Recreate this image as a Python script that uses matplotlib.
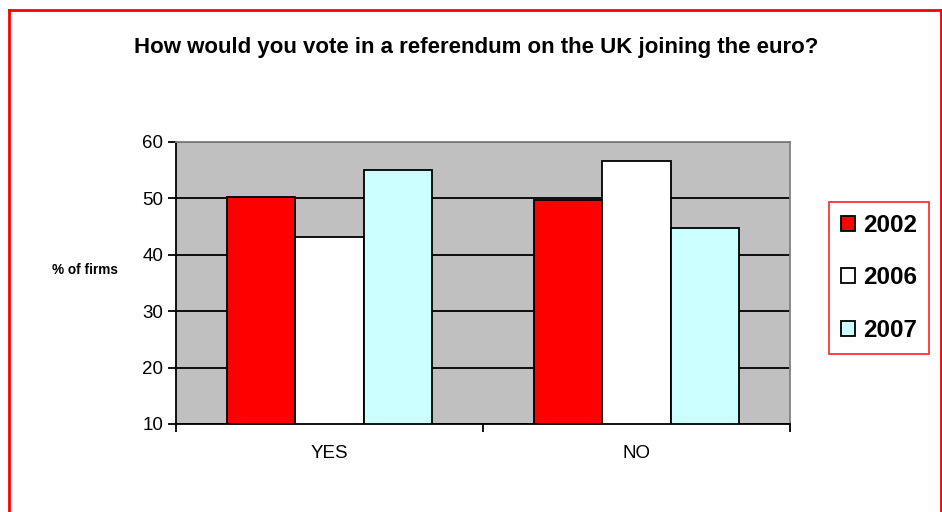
import matplotlib.pyplot as plt
import numpy as np
from matplotlib.patches import Patch
from matplotlib.lines import Line2D

plt.rcParams['font.family'] = ['Liberation Sans', 'DejaVu Sans']

# survey answers, % of firms
answers = ['YES', 'NO']
years = ['2002', '2006', '2007']
pct_2002 = [50.2, 49.7]
pct_2006 = [43.2, 56.6]
pct_2007 = [55.0, 44.8]
colours = ['#ff0000', '#ffffff', '#ccffff']

fig = plt.figure(figsize=(9.42, 5.12), dpi=100)
ax = fig.add_axes([0.1868, 0.1719, 0.6518, 0.5508])

series = [pct_2002, pct_2006, pct_2007]
w = 2 / 9
centres = np.arange(len(answers)) + 0.5
for i, (vals, col) in enumerate(zip(series, colours)):
    x = centres + (i - 1) * w
    ax.bar(x, np.array(vals) - 10, width=w, bottom=10, color=col,
           edgecolor='black', linewidth=1.3, zorder=3)

ax.set_facecolor('#c0c0c0')
ax.set_xlim(0, 2)
ax.set_ylim(10, 60)
ax.set_yticks(range(10, 61, 10))
ax.yaxis.grid(True, color='black', linewidth=1.3, zorder=1)
ax.set_axisbelow(True)

ax.set_xticks([0, 1, 2])
ax.set_xticklabels([])
ax.set_xticks(centres, minor=True)
ax.set_xticklabels(answers, minor=True)
ax.tick_params(axis='x', which='minor', length=0, pad=15, labelsize=13.5)
ax.tick_params(axis='x', which='major', length=6, width=1.3, direction='out')
ax.tick_params(axis='y', length=6, width=1.3, direction='out', labelsize=13.5, pad=3)

for s in ['top', 'right']:
    ax.spines[s].set_color('#808080')
    ax.spines[s].set_linewidth(1.3)
for s in ['left', 'bottom']:
    ax.spines[s].set_color('black')
    ax.spines[s].set_linewidth(1.3)

fig.text(0.506, 0.908, 'How would you vote in a referendum on the UK joining the euro?',
         ha='center', va='center', fontsize=16, fontweight='bold')
fig.text(0.0902, 0.472, '% of firms', ha='center', va='center',
         fontsize=9.8, fontweight='bold')

handles = [Patch(facecolor=c, edgecolor='black', linewidth=1.3) for c in colours]
leg = fig.legend(handles, years, loc='center left',
                 bbox_to_anchor=(829 / 942, (512 - 278) / 512),
                 frameon=True, fancybox=False,
                 prop={'weight': 'bold', 'size': 17.5},
                 handlelength=0.58, handleheight=0.58, handletextpad=0.33,
                 labelspacing=1.22, borderpad=0.5, borderaxespad=0)
leg.get_frame().set_edgecolor('red')
leg.get_frame().set_linewidth(1.3)

# red frame around the chart area
fig.add_artist(Line2D([9 / 942, 9 / 942], [0, 1 - 10 / 512],
                      color='red', linewidth=2, transform=fig.transFigure))
fig.add_artist(Line2D([9 / 942, 941 / 942], [1 - 10 / 512, 1 - 10 / 512],
                      color='red', linewidth=2, transform=fig.transFigure))
fig.add_artist(Line2D([941 / 942, 941 / 942], [0, 1 - 10 / 512],
                      color='red', linewidth=2, transform=fig.transFigure))

fig.savefig('out.png', dpi=100)
